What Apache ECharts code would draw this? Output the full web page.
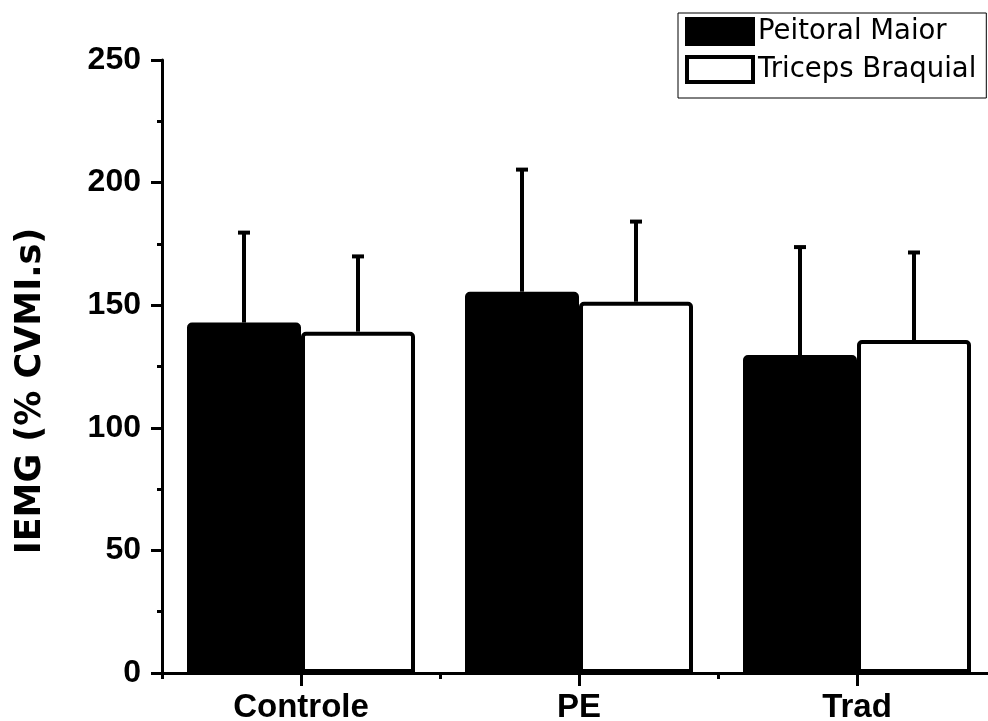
<!DOCTYPE html>
<html>
<head>
<meta charset="utf-8">
<script src="https://cdn.jsdelivr.net/npm/echarts@6/dist/echarts.min.js"></script>
<style>
  html, body { margin: 0; padding: 0; background: #fff; }
  #chart { width: 988px; height: 721px; }
</style>
</head>
<body>
<div id="chart"></div>
<script>
// ---- data ----
const categories = ['Controle', 'PE', 'Trad'];
const seriesNames = ['Peitoral Maior', 'Triceps Braquial'];
const peitoralMean = [142.9, 155.5, 129.7];
const peitoralSD   = [36.7, 49.8, 44.0];
const tricepsMean  = [139.2, 151.4, 135.8];
const tricepsSD    = [30.7, 32.7, 35.7];
const yTicks = [0, 50, 100, 150, 200, 250];

// ---- style ----
const BAR_W = 114;
const LINE_W = 3;
const labelFont = 'Liberation Sans, Arial, sans-serif';

const chart = echarts.init(document.getElementById('chart'), null, { renderer: 'canvas' });

function errData(means, sds) {
  return means.map((m, i) => [i, m, m + sds[i]]);
}

function errRender(dx) {
  return function (params, api) {
    const base = api.coord([api.value(0), api.value(1)]);
    const top = api.coord([api.value(0), api.value(2)]);
    const x = base[0] + dx;
    const capHalf = 6;
    return {
      type: 'group',
      children: [
        { type: 'line', shape: { x1: x, y1: base[1], x2: x, y2: top[1] },
          style: { stroke: '#000', lineWidth: 4 } },
        { type: 'line', shape: { x1: x - capHalf, y1: top[1], x2: x + capHalf, y2: top[1] },
          style: { stroke: '#000', lineWidth: 4 } }
      ]
    };
  };
}

const option = {
  animation: false,
  backgroundColor: '#fff',
  grid: { left: 162, top: 60, right: -8, bottom: 48, containLabel: false, outerBoundsMode: 'none' },
  legend: {
    orient: 'vertical',
    left: 678, top: 13,
    padding: [4, 10, 14, 7],
    itemWidth: 66, itemHeight: 25, itemGap: 9,
    backgroundColor: '#fff',
    borderColor: '#000', borderWidth: 1, borderRadius: 0,
    icon: 'rect',
    textStyle: { fontFamily: 'DejaVu Sans', fontSize: 27.5, color: '#000', lineHeight: 28, padding: [0, 0, 0, 0] },
    data: [
      { name: seriesNames[0], itemStyle: { color: '#000', borderColor: '#000', borderWidth: 4 } },
      { name: seriesNames[1], itemStyle: { color: '#fff', borderColor: '#000', borderWidth: 4 } }
    ]
  },
  xAxis: [
    {
      type: 'category', data: categories, position: 'bottom',
      axisLine: { show: true, onZero: false, lineStyle: { color: '#000', width: LINE_W } },
      axisTick: { show: true, alignWithLabel: true, length: 13, lineStyle: { color: '#000', width: LINE_W } },
      axisLabel: { fontFamily: labelFont, fontWeight: 'bold', fontSize: 33, color: '#000', margin: 18 },
      splitLine: { show: false }
    },
    {
      type: 'category', data: categories, position: 'bottom',
      axisLine: { show: false, onZero: false },
      axisTick: { show: true, alignWithLabel: false, length: 6, lineStyle: { color: '#000', width: LINE_W } },
      axisLabel: { show: false },
      splitLine: { show: false }
    }
  ],
  yAxis: {
    type: 'value', min: yTicks[0], max: yTicks[yTicks.length - 1], interval: yTicks[1] - yTicks[0],
    name: 'IEMG (% CVMI.s)',
    nameLocation: 'middle',
    nameGap: 114,
    nameTextStyle: { fontFamily: 'DejaVu Sans', fontWeight: 'bold', fontSize: 35, color: '#000', padding: [0, 49, 0, 0] },
    axisLine: { show: true, lineStyle: { color: '#000', width: LINE_W } },
    axisTick: { show: true, length: 11, lineStyle: { color: '#000', width: LINE_W } },
    minorTick: { show: true, splitNumber: 2, length: 5, lineStyle: { color: '#000', width: LINE_W } },
    axisLabel: { fontFamily: labelFont, fontWeight: 'bold', fontSize: 32, color: '#000', margin: 21 },
    splitLine: { show: false }
  },
  series: [
    {
      name: seriesNames[0], type: 'bar', data: peitoralMean,
      barWidth: BAR_W, barGap: '0%',
      itemStyle: { color: '#000', borderColor: '#000', borderWidth: 4, borderRadius: [3, 3, 0, 0] },
      z: 2
    },
    {
      name: seriesNames[1], type: 'bar', data: tricepsMean,
      barWidth: BAR_W, barGap: '0%',
      itemStyle: { color: '#fff', borderColor: '#000', borderWidth: 4, borderRadius: [3, 3, 0, 0] },
      z: 2
    },
    {
      type: 'custom', name: 'err1', data: errData(peitoralMean, peitoralSD),
      renderItem: errRender(-BAR_W / 2), encode: { x: 0, y: [1, 2] }, z: 3, silent: true
    },
    {
      type: 'custom', name: 'err2', data: errData(tricepsMean, tricepsSD),
      renderItem: errRender(BAR_W / 2), encode: { x: 0, y: [1, 2] }, z: 3, silent: true
    }
  ]
};

chart.setOption(option);
</script>
</body>
</html>
